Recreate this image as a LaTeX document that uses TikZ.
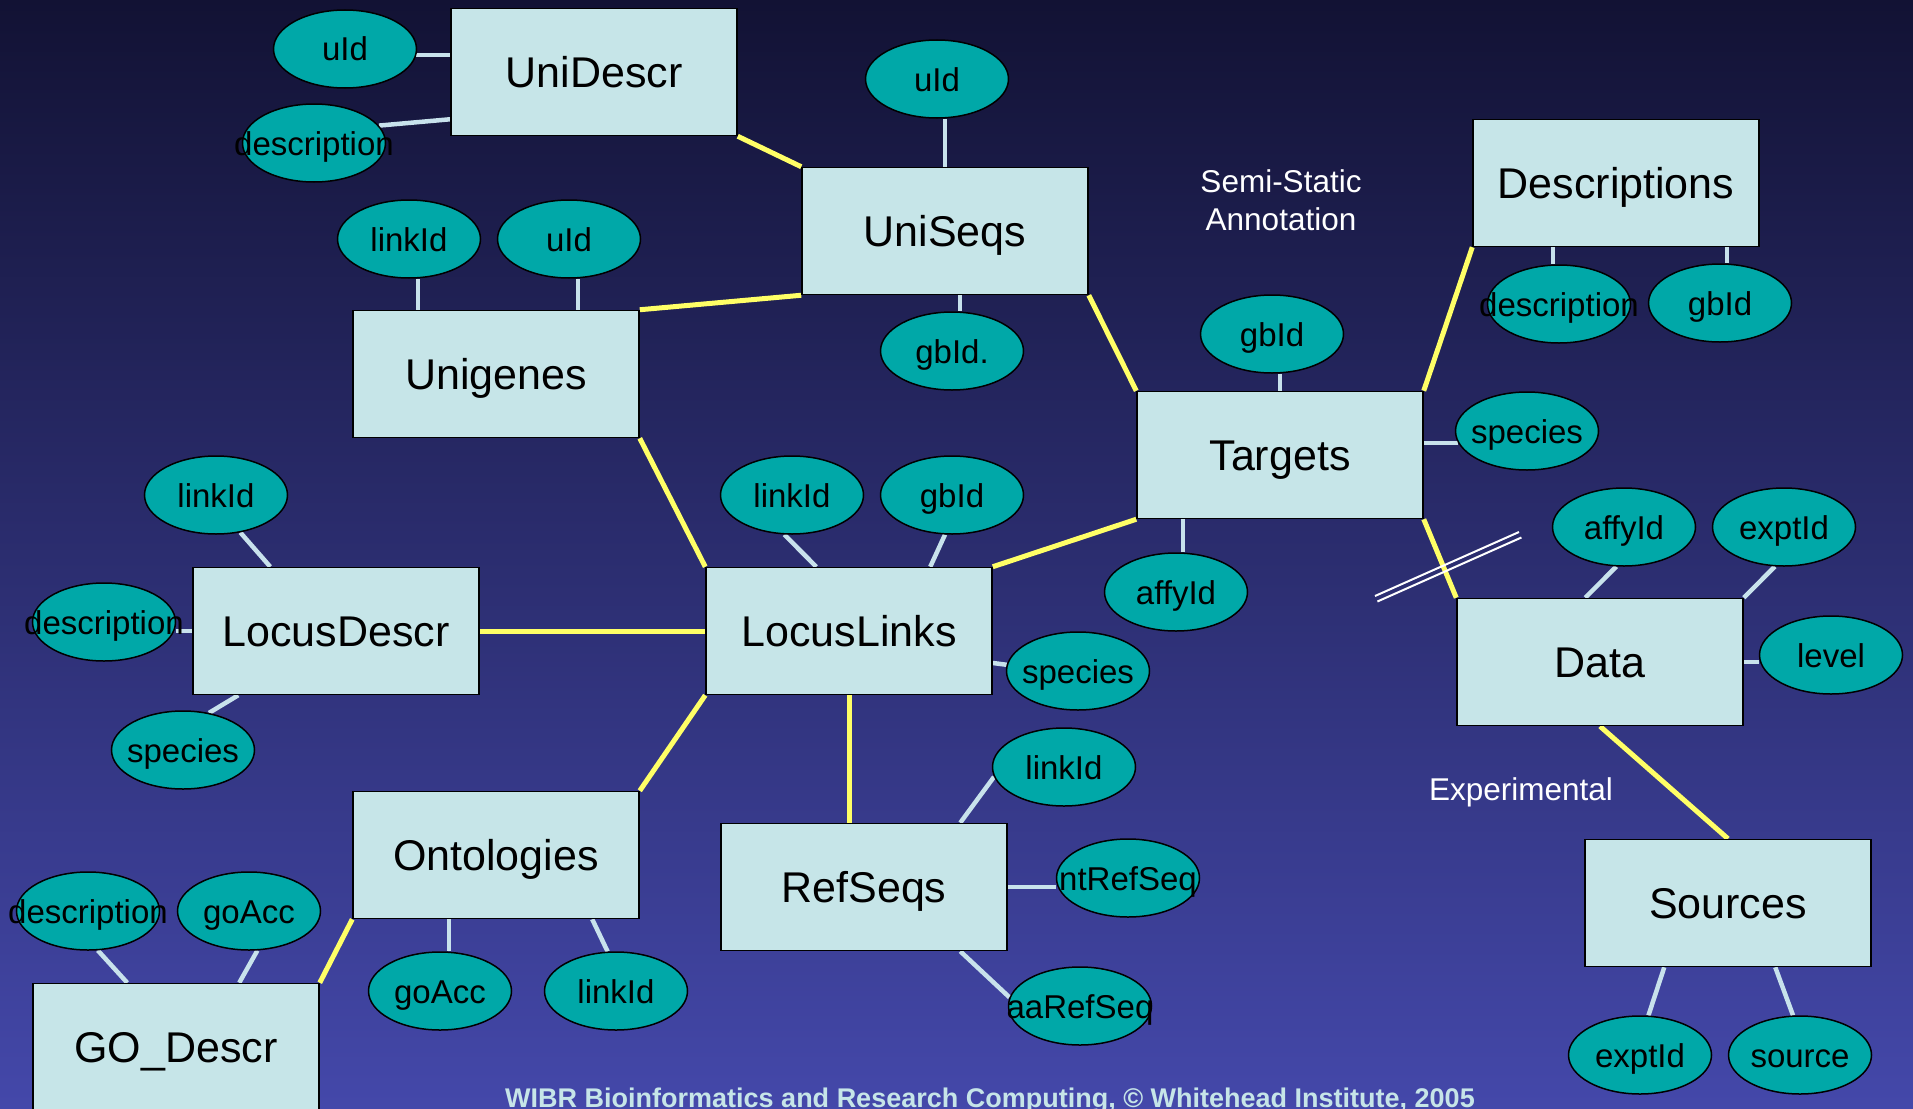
\documentclass[tikz,border=0pt]{standalone}
\usepackage{fontspec}
\setmainfont{Liberation Sans}
\usetikzlibrary{shapes.geometric,calc}
\pgfdeclarelayer{back}
\pgfdeclarelayer{lines}
\pgfsetlayers{back,lines,main}
\definecolor{bgtop}{HTML}{121234}
\definecolor{bgbot}{HTML}{4448AA}
\definecolor{boxfill}{HTML}{C6E5E8}
\definecolor{attfill}{HTML}{00A8A8}
\definecolor{rel}{HTML}{FFFF66}
\definecolor{attline}{HTML}{C8E2EC}
\newcommand\zw[1]{\makebox[0pt]{#1}}
\begin{document}
\begin{tikzpicture}[x=1pt,y=-1pt,
  entity/.style={rectangle, draw=black, line width=1.5pt, fill=boxfill,
    minimum width=286pt, minimum height=127pt, inner sep=0pt,
    text height=31pt, text depth=0pt,
    font=\fontsize{43}{50}\selectfont},
  attr/.style={ellipse, draw=black, line width=1.5pt, fill=attfill,
    minimum width=143pt, minimum height=78pt, inner sep=0pt,
    text height=24pt, text depth=0pt,
    font=\fontsize{33}{38}\selectfont},
  rell/.style={draw=rel, line width=5pt},
  attl/.style={draw=attline, line width=4.5pt},
  lbl/.style={text=white, font=\fontsize{31.5}{38}\selectfont, align=center},
  brk/.style={draw=white, line width=2pt}]
\begin{pgfonlayer}{back}
\shade[top color=bgtop, bottom color=bgbot] (0,0) rectangle (1913,1108);
\end{pgfonlayer}
\useasboundingbox (0,0) rectangle (1913,1108);

% entities
\node[entity] (UniDescr) at (594,72) {UniDescr};
\node[entity] (UniSeqs) at (945,231) {UniSeqs};
\node[entity] (Unigenes) at (496,374) {Unigenes};
\node[entity] (Descriptions) at (1616,183) {Descriptions};
\node[entity] (Targets) at (1280,455) {Targets};
\node[entity] (LocusDescr) at (336,631) {LocusDescr};
\node[entity] (LocusLinks) at (849,631) {LocusLinks};
\node[entity] (Data) at (1600,662) {Data};
\node[entity] (Ontologies) at (496,855) {Ontologies};
\node[entity] (RefSeqs) at (864,887) {RefSeqs};
\node[entity] (Sources) at (1728,903) {Sources};
\node[entity] (GODescr) at (176,1047) {GO\_Descr};

% attributes
\node[attr] (uA) at (345,49) {\zw{uId}};
\node[attr] (dA) at (314,143) {\zw{description}};
\node[attr] (uB) at (937,79) {\zw{uId}};
\node[attr] (gB) at (952,351) {\zw{gbId.}};
\node[attr] (lC) at (409,239) {\zw{linkId}};
\node[attr] (uC) at (569,239) {\zw{uId}};
\node[attr] (dD) at (1559,304) {\zw{description}};
\node[attr] (gD) at (1720,303) {\zw{gbId}};
\node[attr] (gE) at (1272,334) {\zw{gbId}};
\node[attr] (sE) at (1527,431) {\zw{species}};
\node[attr] (aE) at (1176,592) {\zw{affyId}};
\node[attr] (lF) at (216,495) {\zw{linkId}};
\node[attr] (dF) at (104,622) {\zw{description}};
\node[attr] (sF) at (183,750) {\zw{species}};
\node[attr] (lG) at (792,495) {\zw{linkId}};
\node[attr] (gG) at (952,495) {\zw{gbId}};
\node[attr] (sG) at (1078,671) {\zw{species}};
\node[attr] (aH) at (1624,527) {\zw{affyId}};
\node[attr] (eH) at (1784,527) {\zw{exptId}};
\node[attr] (vH) at (1831,655) {\zw{level}};
\node[attr] (lJ) at (1064,767) {\zw{linkId}};
\node[attr] (nJ) at (1128,878) {\zw{ntRefSeq}};
\node[attr] (aJ) at (1080,1006) {\zw{aaRefSeq}};
\node[attr] (dL) at (88,911) {\zw{description}};
\node[attr] (gL) at (249,911) {\zw{goAcc}};
\node[attr] (gI) at (440,991) {\zw{goAcc}};
\node[attr] (lI) at (616,991) {\zw{linkId}};
\node[attr] (eK) at (1640,1055) {\zw{exptId}};
\node[attr] (sK) at (1800,1055) {\zw{source}};

% labels
\node[lbl] (semi) at (1281,200) {Semi-Static\\Annotation};
\node[lbl] (expt) at (1521,792) {Experimental};
\node[text=boxfill, anchor=base, font=\bfseries\fontsize{27}{30}\selectfont] (foot) at (990,1107)
  {WIBR Bioinformatics and Research Computing, \textcopyright\ Whitehead Institute, 2005};

% break mark
\coordinate (b1s) at (1375,596);
\coordinate (b1e) at (1519,532);
\coordinate (b2s) at (1377.4,601.5);
\coordinate (b2e) at (1521.4,537.5);

\begin{pgfonlayer}{lines}
% relationships
\draw[rell] (UniDescr.south east) -- (UniSeqs.north west);
\draw[rell] (Unigenes.north east) -- (UniSeqs.south west);
\draw[rell] (UniSeqs.south east) -- (Targets.north west);
\draw[rell] (Descriptions.south west) -- (Targets.north east);
\draw[rell] (Unigenes.south east) -- (LocusLinks.north west);
\draw[rell] (Targets.south west) -- (LocusLinks.north east);
\draw[rell] (Targets.south east) -- (Data.north west);
\draw[rell] (LocusDescr.east) -- (LocusLinks.west);
\draw[rell] (LocusLinks.south west) -- (Ontologies.north east);
\draw[rell] (LocusLinks.south) -- (LocusLinks.south |- RefSeqs.north);
\draw[rell] (Ontologies.south west) -- (GODescr.north east);
\draw[rell] (Data.south) -- (Sources.north);
% attribute links
\draw[attl] (uA.-5) -- (uA.-5 -| UniDescr.west);
\draw[attl] (dA.15) -- ([yshift=17pt]UniDescr.south west);
\draw[attl] (UniSeqs.north) -- (UniSeqs.north |- uB.south);
\draw[attl] ([xshift=15pt]UniSeqs.south) -- ([xshift=15pt]UniSeqs.south |- gB.north);
\draw[attl] ([xshift=9pt]lC.south) -- ([xshift=9pt]lC.south |- Unigenes.north);
\draw[attl] ([xshift=9pt]uC.south) -- ([xshift=9pt]uC.south |- Unigenes.north);
\draw[attl] ([xshift=-6pt]dD.north) -- ([xshift=-6pt]dD.north |- Descriptions.south);
\draw[attl] ([xshift=7pt]gD.north) -- ([xshift=7pt]gD.north |- Descriptions.south);
\draw[attl] (Targets.north) -- (Targets.north |- gE.south);
\draw[attl] (sE.190) -- (sE.190 -| Targets.east);
\draw[attl] ([xshift=7pt]aE.north) -- ([xshift=7pt]aE.north |- Targets.south);
\draw[attl] (lF.-57) -- ([xshift=78pt]LocusDescr.north west);
\draw[attl] (LocusDescr.west) -- (LocusDescr.west -| dF.east);
\draw[attl] (sF.55) -- ([xshift=46pt]LocusDescr.south west);
\draw[attl] (lG.-101) -- ([xshift=111pt]LocusLinks.north west);
\draw[attl] (gG.-100) -- ([xshift=225pt]LocusLinks.north west);
\draw[attl] (sG.175) -- ([yshift=-32pt]LocusLinks.east);
\draw[attl] (aH.-101) -- ([xshift=129pt]Data.north west);
\draw[attl] (eH.-103) -- (Data.north east);
\draw[attl] (Data.east) -- (Data.east -| vH.west);
\draw[attl] (lJ.188) -- ([xshift=240pt]RefSeqs.north west);
\draw[attl] (RefSeqs.east) -- (RefSeqs.east -| nJ.west);
\draw[attl] (aJ.173) -- ([xshift=240pt]RefSeqs.south west);
\draw[attl] (dL.-76) -- ([xshift=95pt]GODescr.north west);
\draw[attl] (gL.-78) -- ([xshift=207pt]GODescr.north west);
\draw[attl] ([xshift=9pt]gI.north) -- ([xshift=9pt]gI.north |- Ontologies.south);
\draw[attl] (lI.102) -- ([xshift=240pt]Ontologies.south west);
\draw[attl] (eK.78) -- ([xshift=80pt]Sources.south west);
\draw[attl] (sK.100) -- ([xshift=191pt]Sources.south west);
\end{pgfonlayer}
\draw[brk] (b1s) -- (b1e);
\draw[brk] (b2s) -- (b2e);
\end{tikzpicture}
\end{document}
